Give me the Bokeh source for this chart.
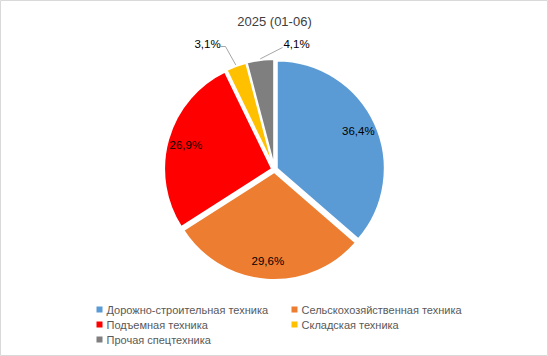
import math
import numpy as np
from bokeh.plotting import figure
from bokeh.models import Range1d
from bokeh.core.properties import value
from bokeh.embed import file_html
from bokeh.resources import INLINE

# ---- data ----
title_text = "2025 (01-06)"
categories = [
    "Дорожно-строительная техника",
    "Сельскохозяйственная техника",
    "Подъемная техника",
    "Складская техника",
    "Прочая спецтехника",
]
shares = [36.4, 29.6, 26.9, 3.1, 4.1]
colors = ["#5B9BD5", "#ED7D31", "#FF0000", "#FFC000", "#7F7F7F"]

# ---- layout (pixel coords, top-left origin) ----
W, H = 548, 356
FONT = "Liberation Sans"
cx_px, cy_px, R, EXPL = 274.0, 169.0, 108.0, 2.5
outside_label_px = {3: (207, 43), 4: (296, 43)}
outside_line_px = {3: [(220, 46), (225, 46)], 4: [(282, 47)]}
legend_x_px = [99, 294, 99, 294, 99]
legend_y_px = [309, 309, 324, 324, 339]


def fy(py):
    return H - py


p = figure(width=W, height=H, output_backend="svg", toolbar_location=None,
           x_axis_type=None, y_axis_type=None, min_border=0,
           x_range=Range1d(0, W), y_range=Range1d(0, H))
p.outline_line_color = "#D9D9D9"
p.outline_line_width = 1
p.grid.visible = False
p.background_fill_color = "white"
p.border_fill_color = "white"

cx, cy = cx_px, fy(cy_px)
tot = sum(shares)
cum = np.concatenate([[0.0], np.cumsum(shares)]) / tot
start = math.pi / 2 - cum[:-1] * 2 * math.pi
end = math.pi / 2 - cum[1:] * 2 * math.pi
mid = (start + end) / 2
wx = cx + EXPL * np.cos(mid)
wy = cy + EXPL * np.sin(mid)

p.wedge(x=wx, y=wy, radius=R, start_angle=start, end_angle=end,
        direction="clock", fill_color=colors, line_color="white",
        line_width=2)

labels = [f"{v:.1f}".replace(".", ",") + "%" for v in shares]
for i, lab in enumerate(labels):
    if i in outside_label_px:
        lx, ly = outside_label_px[i]
        ly = fy(ly)
        pts = outside_line_px[i]
        xs = [a for a, b in pts]
        ys = [fy(b) for a, b in pts]
        ex = wx[i] + (R + 1) * math.cos(mid[i])
        ey = wy[i] + (R + 1) * math.sin(mid[i])
        p.line(x=xs + [ex], y=ys + [ey], line_color="#A6A6A6", line_width=1)
    else:
        lx = wx[i] + 0.83 * R * math.cos(mid[i])
        ly = wy[i] + 0.83 * R * math.sin(mid[i])
    p.text(x=[lx], y=[ly], text=[lab], text_font=value(FONT),
           text_font_size="11.5px", text_color="#000000", text_align="center",
           text_baseline="middle")

# title
p.text(x=[W / 2], y=[fy(21)], text=[title_text], text_font=value(FONT),
       text_font_size="13px", text_color="#404040", text_align="center",
       text_baseline="middle")

# legend
lx = np.array(legend_x_px, dtype=float)
ly = np.array([fy(v) for v in legend_y_px], dtype=float)
p.scatter(x=lx, y=ly, marker="square", size=6, fill_color=colors,
          line_color=None)
p.text(x=lx + 7, y=ly, text=categories, text_font=value(FONT),
       text_font_size="11px", text_color="#595959", text_align="left",
       text_baseline="middle")

open("out.html", "w").write(file_html(p, INLINE))
